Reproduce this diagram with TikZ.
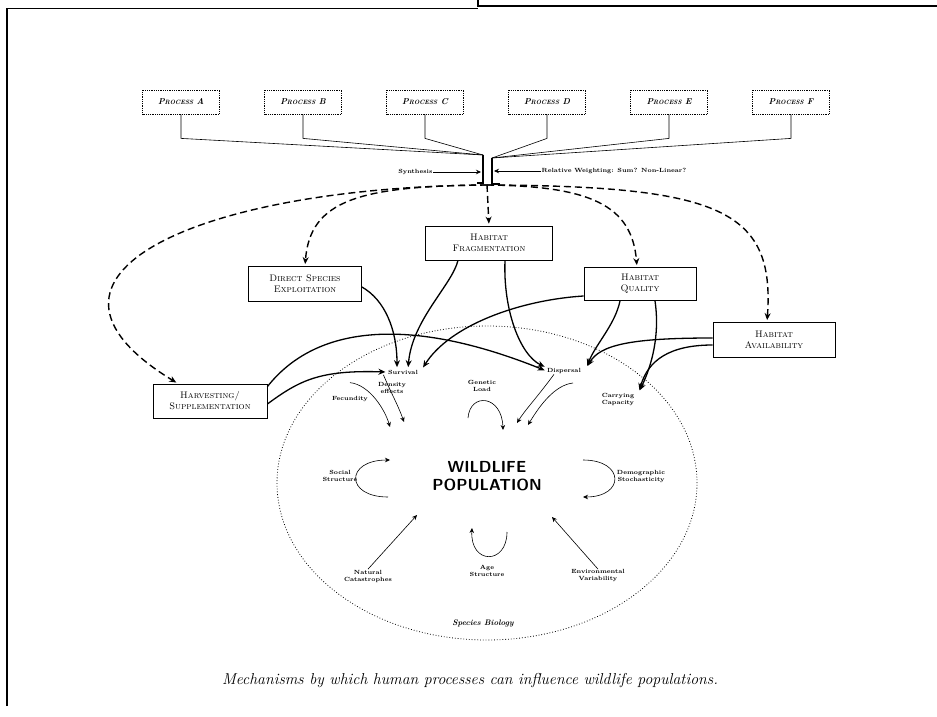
\documentclass[tikz,border=0pt]{standalone}
\usetikzlibrary{arrows.meta}
\newcommand\procname[1]{P{\fontsize{6.2}{9}\selectfont ROCESS} #1}
\begin{document}
\begin{tikzpicture}[x=1pt,y=-1pt,
    proc/.style={draw,densely dotted,thick,minimum width=77pt,minimum height=24pt,inner sep=1pt,font=\fontsize{8.5}{9}\selectfont\bfseries\itshape},
    hbox/.style={draw,thick,align=center,inner sep=1pt,font=\fontsize{9.5}{11}\selectfont\scshape},
    lbl/.style={align=center,inner sep=0.5pt,font=\fontsize{6}{7}\selectfont\bfseries},
    harr/.style={line width=1.3pt,shorten >=2pt,-{Stealth[length=7pt,width=6pt]}},
    tarr/.style={line width=0.6pt,-{Stealth[length=5pt,width=4.5pt]}},
    darr/.style={line width=1.4pt,dash pattern=on 7pt off 4pt,shorten >=2pt,-{Stealth[length=7pt,width=6pt]}}]
    \useasboundingbox (0,0) rectangle (937,717);
    \draw[line width=1.5pt] (7,706) -- (7,8.5) -- (478,8.5);
    \draw[line width=1.5pt] (478,0) -- (478,6) -- (937,6);

    \foreach \l [count=\i] in {A,B,C,D,E,F}
        \node[proc] (p\l) at (59+122*\i,102) {\procname{\l}};
    \coordinate (jl) at (483,155);
    \coordinate (jr) at (492,158);
    \coordinate (jb) at (487,185);
    \foreach \l in {A,B,C}
        \draw[line width=0.6pt] (p\l.south) -- ++(0,24) -- (jl);
    \foreach \l in {D,E,F}
        \draw[line width=0.6pt] (p\l.south) -- ++(0,24) -- (jr);
    \draw[line width=1.8pt] (jl) -- (483,183) -- (477,183);
    \draw[line width=1.8pt] (jr) -- (492,184) -- (500,184);

    \node[lbl,anchor=east] (syn) at (433,172) {Synthesis};
    \node[lbl,anchor=west] (rw) at (541,171) {Relative Weighting: Sum? Non-Linear?};
    \coordinate (jlm) at (481,172);
    \coordinate (jrm) at (494,171);
    \draw[tarr] (syn) -- (jlm);
    \draw[tarr] (rw) -- (jrm);

    \node[hbox,minimum width=127pt,minimum height=34pt] (hf) at (489,243) {Habitat\\Fragmentation};
    \node[hbox,minimum width=113pt,minimum height=35pt] (dse) at (305,284) {Direct Species\\Exploitation};
    \node[hbox,minimum width=112pt,minimum height=33pt] (hq) at (640,284) {Habitat\\Quality};
    \node[hbox,minimum width=122pt,minimum height=35pt] (ha) at (774,340) {Habitat\\Availability};
    \node[hbox,minimum width=114pt,minimum height=34pt] (hs) at (210,401) {Harvesting/\\Supplementation};

    \draw[darr] (jb) -- (hf.north);
    \draw[darr] (jb) .. controls (360,186) and (310,200) .. (dse.north);
    \draw[darr] (jb) .. controls (200,187) and (0,275) .. ([xshift=-32pt]hs.north);
    \draw[darr] (jb) .. controls (590,186) and (632,205) .. ([xshift=-3pt]hq.north);
    \draw[darr] (jb) .. controls (720,186) and (775,210) .. ([xshift=-7pt]ha.north);

    \draw[dotted,thick] (487,483) ellipse [x radius=210pt,y radius=157pt];

    \node[lbl] (surv) at (403,372) {Survival};
    \node[lbl] (disp) at (564,371) {Dispersal};
    \node[lbl] (carr) at (618,399) {Carrying\\Capacity};
    \node[lbl] (gen) at (482,386) {Genetic\\Load};
    \node[lbl] (fec) at (350,399) {Fecundity};
    \node[lbl] (dens) at (392,388) {Density\\effects};
    \node[lbl] (soc) at (340,476) {Social\\Structure};
    \node[lbl] (demo) at (641,477) {Demographic\\Stochasticity};
    \node[lbl] (nat) at (368,576) {Natural\\Catastrophes};
    \node[lbl] (age) at (487,571) {Age\\Structure};
    \node[lbl] (env) at (598,576) {Environmental\\Variability};
    \node[font=\fontsize{8}{9}\selectfont\bfseries\itshape] (spec) at (483,623) {Species Biology};
    \node[align=center,font=\fontsize{16}{18.5}\selectfont\sffamily\bfseries] (wp) at (487,476) {WILDLIFE\\POPULATION};

    \draw[harr] ([yshift=-3pt]dse.east) .. controls (385,300) and (397,330) .. ([xshift=-6pt]surv.north);
    \draw[harr] ([xshift=-31pt]hf.south) .. controls (452,285) and (412,320) .. ([xshift=5pt]surv.north);
    \draw[harr] ([xshift=16pt]hf.south) .. controls (503,310) and (520,355) .. (disp.north west);
    \draw[harr] ([yshift=-12pt]hq.west) .. controls (520,300) and (450,325) .. ([xshift=19pt]surv.north);
    \draw[harr] ([xshift=-20pt]hq.south) .. controls (615,325) and (595,345) .. ([xshift=5pt]disp.north east);
    \draw[harr] ([xshift=15pt]hq.south) .. controls (660,335) and (652,365) .. ([xshift=4pt]carr.north east);
    \draw[harr] ([yshift=2pt]ha.west) .. controls (630,338) and (600,345) .. ([xshift=5pt]disp.north east);
    \draw[harr] ([yshift=-5pt]ha.west) .. controls (670,345) and (648,360) .. ([xshift=4pt]carr.north east);
    \draw[harr] ([yshift=-3pt]hs.north east) .. controls (320,320) and (420,320) .. (disp.west);
    \draw[harr] ([yshift=-3pt]hs.east) .. controls (300,380) and (320,370) .. (surv.west);

    \coordinate (tfec) at (390,427);
    \coordinate (tsurv) at (404,422);
    \coordinate (gen0) at (468,418);
    \coordinate (tgen) at (503,430);
    \coordinate (tdisp) at (517,423);
    \coordinate (carr0) at (573,383);
    \coordinate (tcarr) at (528,425);
    \coordinate (soc0) at (388,497);
    \coordinate (tsoc) at (390,460);
    \coordinate (demo0) at (583,460);
    \coordinate (tdemo) at (583,497);
    \coordinate (tnat) at (417,515);
    \coordinate (age0) at (507,532);
    \coordinate (tage) at (472,528);
    \coordinate (tenv) at (552,517);

    \draw[tarr] ([yshift=13pt]fec.north) .. controls (370,385) and (385,410) .. (tfec);
    \draw[tarr] ([xshift=-4pt]surv.south west) .. controls (392,395) and (398,405) .. (tsurv);
    \draw[tarr] (gen0) .. controls (470,392) and (502,395) .. (tgen);
    \draw[tarr] ([xshift=-10pt]disp.south) .. controls (535,400) and (525,410) .. (tdisp);
    \draw[tarr] (carr0) .. controls (555,385) and (540,405) .. (tcarr);
    \draw[tarr] (soc0) .. controls (345,497) and (345,460) .. (tsoc);
    \draw[tarr] (demo0) .. controls (625,460) and (625,497) .. (tdemo);
    \draw[tarr] (nat.north) -- (tnat);
    \draw[tarr] (age0) .. controls (507,565) and (470,565) .. (tage);
    \draw[tarr] (env.north) -- (tenv);

    \node[font=\fontsize{15.8}{18}\selectfont\itshape] (cap) at (470,681) {Mechanisms by which human processes can influence wildlife populations.};
\end{tikzpicture}
\end{document}
